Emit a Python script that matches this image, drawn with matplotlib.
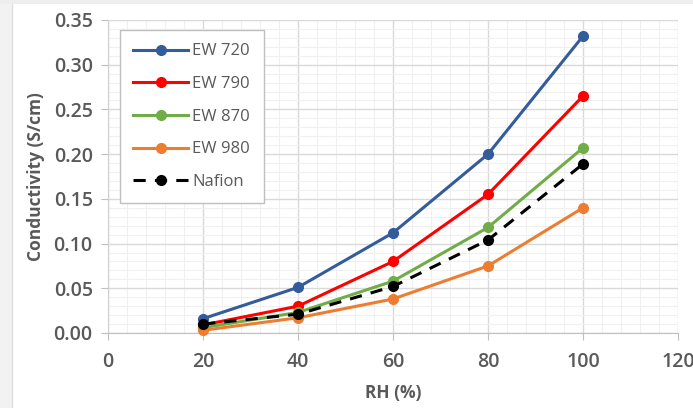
import numpy as np
import matplotlib.pyplot as plt
from matplotlib.patches import Rectangle
from matplotlib.ticker import MultipleLocator

# Données
rh = [20, 40, 60, 80, 100]
ew720 = [0.016, 0.051, 0.112, 0.200, 0.332]
ew790 = [0.009, 0.030, 0.080, 0.155, 0.265]
ew870 = [0.006, 0.023, 0.058, 0.118, 0.207]
ew980 = [0.003, 0.017, 0.038, 0.075, 0.140]
nafion = [0.010, 0.021, 0.052, 0.104, 0.189]

plt.rcParams['font.family'] = ['Open Sans', 'DejaVu Sans']
gris = '#595959'

fig = plt.figure(figsize=(6.93, 4.08), dpi=100)
fig.patch.set_facecolor('white')

# bandes grises (ombre) à gauche et en haut
fig.patches.append(Rectangle((0, 0), 12 / 693, 1, transform=fig.transFigure,
                             facecolor='#F2F2F2', edgecolor='none', zorder=0))
fig.patches.append(Rectangle((0, 1 - 4 / 408), 1, 4 / 408, transform=fig.transFigure,
                             facecolor='#EEEEEE', edgecolor='none', zorder=0))
fig.lines.append(plt.Line2D([12 / 693, 12 / 693], [0, 1 - 4 / 408], transform=fig.transFigure,
                            color='#E0E0E0', linewidth=1))

ax = fig.add_axes([108 / 693, 1 - 333 / 408, 570 / 693, 313 / 408])

series = [
    (ew720, 'EW 720', '#335C9A', '-'),
    (ew790, 'EW 790', '#FF0000', '-'),
    (ew870, 'EW 870', '#70AD47', '-'),
    (ew980, 'EW 980', '#ED7D31', '-'),
    (nafion, 'Nafion', '#000000', (0, (4, 3))),
]
for vals, lab, col, ls in series:
    ax.plot(rh, vals, color=col, linestyle=ls, linewidth=2.2, marker='o',
            markersize=7, label=lab, zorder=3, clip_on=False)

ax.set_xlim(0, 120)
ax.set_ylim(0, 0.35)
ax.xaxis.set_major_locator(MultipleLocator(20))
ax.xaxis.set_minor_locator(MultipleLocator(4))
ax.yaxis.set_major_locator(MultipleLocator(0.05))
ax.yaxis.set_minor_locator(MultipleLocator(0.01))
ax.yaxis.set_major_formatter(plt.FuncFormatter(lambda v, p: f'{v:.2f}'))

ax.grid(which='major', color='#D9D9D9', linewidth=1)
ax.grid(which='minor', color='#F0F0F0', linewidth=0.8)
ax.set_axisbelow(True)

for s in ['top', 'right']:
    ax.spines[s].set_visible(False)
ax.spines['left'].set_color('#D0D0D0')
ax.spines['bottom'].set_color('#BFBFBF')

ax.tick_params(which='major', direction='out', length=5, color='#BFBFBF',
               labelsize=14, labelcolor=gris, pad=6)
ax.tick_params(axis='x', pad=9)
ax.tick_params(which='minor', length=0)
for t in ax.get_xticklabels() + ax.get_yticklabels():
    t.set_fontweight('semibold')

ax.set_xlabel('RH (%)', fontsize=12.5, fontweight='bold', color=gris, labelpad=8)
ax.set_ylabel('Conductivity (S/cm)', fontsize=12.5, fontweight='bold', color=gris, labelpad=6)

leg = ax.legend(loc='upper left', bbox_to_anchor=(0.021, 0.968), borderaxespad=0,
                fontsize=12, frameon=True, fancybox=False, edgecolor='#BFBFBF',
                framealpha=1, labelspacing=1.0, handlelength=3.3, borderpad=0.8,
                handletextpad=0.25, labelcolor=gris)
leg.get_frame().set_linewidth(1)

plt.savefig('out.png', dpi=100)
